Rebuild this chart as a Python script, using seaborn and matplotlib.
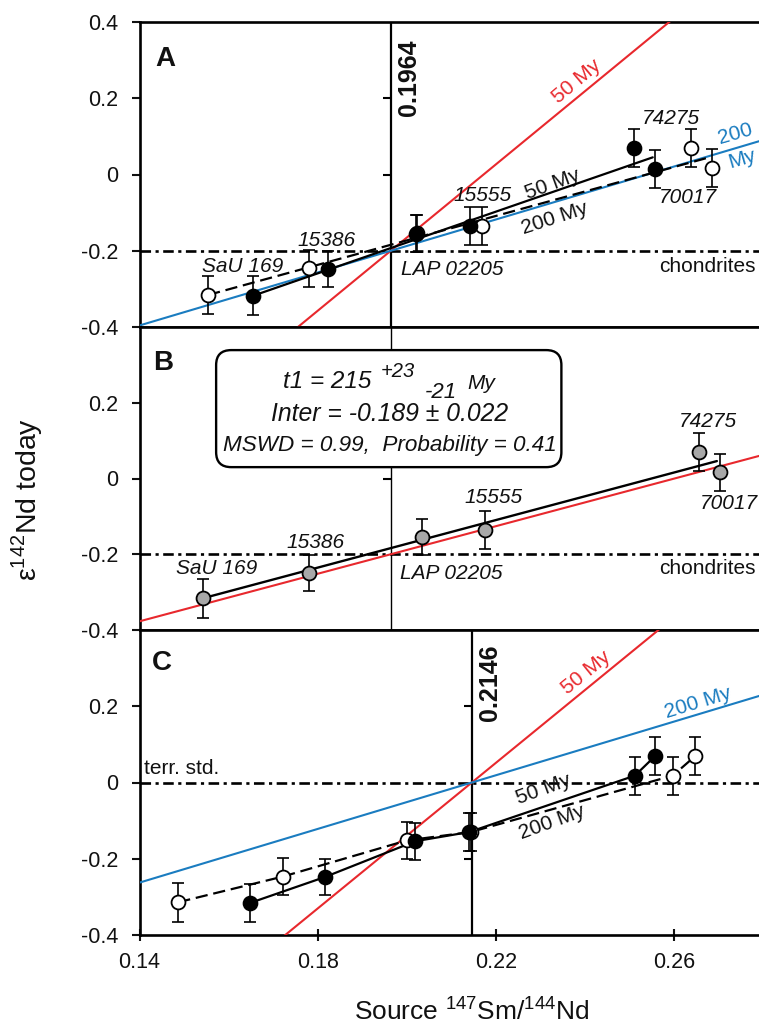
import numpy as np
import pandas as pd
import matplotlib
matplotlib.use("Agg")
import matplotlib.pyplot as plt
import matplotlib.markers as mmarkers
from matplotlib.patches import FancyBboxPatch
import seaborn as sns

# ---------------- data ----------------
samples = ["SaU 169", "15386", "LAP 02205", "15555", "74275", "70017"]
err = [0.051, 0.048, 0.048, 0.050, 0.050, 0.050]

# Panel A (filled = 50 My model, open = 200 My model)
a_fill_x = [0.1655, 0.1824, 0.2020, 0.2142, 0.2511, 0.2557]
a_fill_y = [-0.318, -0.248, -0.155, -0.135, 0.069, 0.014]
a_open_x = [0.1554, 0.1781, 0.2023, 0.2169, 0.2637, 0.2686]
a_open_y = [-0.316, -0.246, -0.154, -0.136, 0.069, 0.016]
a_pivot = (0.1964, -0.2)
a_slope_50 = 9.6
a_slope_200 = 3.475
a_fit50_x = [0.1655, 0.2552]
a_fit50_y = [-0.318, 0.045]
a_fit200_x = [0.1554, 0.2682]
a_fit200_y = [-0.316, 0.046]

# Panel B
b_x = [0.1543, 0.1780, 0.2033, 0.2175, 0.2655, 0.2704]
b_y = [-0.316, -0.249, -0.154, -0.135, 0.069, 0.016]
b_slope_model = 3.14
b_fit_x = [0.1543, 0.2696]
b_fit_y = [-0.316, 0.046]

# Panel C
c_fill_x = [0.1648, 0.1816, 0.2019, 0.2140, 0.2557, 0.2512]
c_fill_y = [-0.316, -0.248, -0.154, -0.130, 0.069, 0.018]
c_open_x = [0.1487, 0.1721, 0.2000, 0.2143, 0.2647, 0.2597]
c_open_y = [-0.314, -0.247, -0.152, -0.130, 0.069, 0.018]
c_pivot = (0.2146, 0.0)
c_slope_50 = 9.55
c_slope_200 = 3.52

ytick_a = [0.4, 0.2, 0, -0.2, -0.4]
ylab_a = ["0.4", "0.2", "0", "-0.2", "-0.4"]
ytick_bc = [0.2, 0, -0.2, -0.4]
ylab_bc = ["0.2", "0", "-0.2", "-0.4"]
xticks = [0.14, 0.18, 0.22, 0.26]
xlabs = ["0.14", "0.18", "0.22", "0.26"]

# ---------------- style ----------------
sns.set_theme(style="ticks")
plt.rcParams["font.family"] = ["Liberation Sans", "DejaVu Sans"]
plt.rcParams["axes.unicode_minus"] = False
plt.rcParams["mathtext.fontset"] = "custom"
plt.rcParams["mathtext.rm"] = "Liberation Sans"

RED = "#e8282d"
BLUE = "#1a7cc0"
GRAY = "#a8a8a8"
INK = "#111111"

W, H = 759, 1024
fig = plt.figure(figsize=(W / 100, H / 100), dpi=100)
left = 139.5 / W
width = (763.2 - 139.5) / W
tops = [22, 327, 630]
bots = [327, 630, 935]
axes = [fig.add_axes([left, 1 - b / H, width, (b - t) / H]) for t, b in zip(tops, bots)]

xlim = (0.14, 0.28)
xx = np.array(xlim)
DASHDOT = (0, (4, 1.7, 1.2, 1.7))
DASHED = (0, (5.5, 2.6))


def base(ax):
    ax.set_xlim(*xlim)
    ax.set_ylim(-0.4, 0.4)
    for s in ["left", "top", "bottom", "right"]:
        ax.spines[s].set_linewidth(1.9)
        ax.spines[s].set_color("black")
    ax.tick_params(axis="y", direction="out", length=6, width=1.5,
                   labelsize=15.5, pad=9, colors=INK)
    ax.set_xlabel("")
    ax.set_ylabel("")


def points(ax, x, y, face, z=5):
    ax.errorbar(x, y, yerr=err, fmt="none", ecolor="black", elinewidth=1.2,
                capsize=4.3, capthick=1.2, zorder=z)
    sns.scatterplot(x=x, y=y, ax=ax, s=100, color=face, edgecolor="black",
                    linewidth=1.3, zorder=z + 0.5, legend=False)


def vline_ticks(ax, xv, yv):
    ax.plot([xv] * len(yv), yv, ls="none", marker=mmarkers.TICKLEFT,
            ms=6, mew=1.5, color="black", zorder=2)


def model_line(ax, pivot, slope, color, z=3):
    yy = pivot[1] + slope * (xx - pivot[0])
    sns.lineplot(x=xx, y=yy, ax=ax, color=color, lw=1.5, zorder=z, legend=False)


lab = dict(fontsize=15, style="italic", ha="center", va="center", color=INK)
up = dict(fontsize=15, ha="center", va="center", rotation_mode="anchor")

# ---------------- panel A ----------------
ax = axes[0]
base(ax)
ax.axhline(-0.2, color="black", lw=1.9, ls=DASHDOT, zorder=1)
ax.axvline(a_pivot[0], color="black", lw=1.6, zorder=2)
vline_ticks(ax, a_pivot[0], [0.2, 0.0])
model_line(ax, a_pivot, a_slope_50, RED)
model_line(ax, a_pivot, a_slope_200, BLUE)
sns.lineplot(x=a_fit200_x, y=a_fit200_y, ax=ax, color="black", lw=1.6,
             linestyle=DASHED, zorder=4, legend=False)
sns.lineplot(x=a_fit50_x, y=a_fit50_y, ax=ax, color="black", lw=1.6, zorder=4, legend=False)
points(ax, a_open_x, a_open_y, "white")
points(ax, a_fill_x, a_fill_y, "black", z=6)
ax.set_yticks(ytick_a, ylab_a)
ax.set_xticks([])

ax.text(0.1631, -0.240, samples[0], **lab)
ax.text(0.1819, -0.172, samples[1], **lab)
ax.text(0.2102, -0.249, samples[2], **lab)
ax.text(0.2170, -0.054, samples[3], **lab)
ax.text(0.2593, 0.148, samples[4], **lab)
ax.text(0.2630, -0.060, samples[5], **lab)
ax.text(0.2784, -0.241, "chondrites", fontsize=15, ha="right", va="center", color=INK)
ax.text(0.2327, -0.025, "50 My", rotation=20, color=INK, **up)
ax.text(0.2333, -0.115, "200 My", rotation=18, color=INK, **up)
ax.text(0.2381, 0.244, "50 My", rotation=40, color=RED, **up)
ax.text(0.2738, 0.106, "200", rotation=16, color=BLUE, **up)
ax.text(0.2752, 0.041, "My", rotation=16, color=BLUE, **up)
ax.text(0.1458, 0.303, "A", fontsize=20, fontweight="bold", ha="center", va="center", color=INK)
ax.text(0.2004, 0.255, "0.1964", fontsize=18, fontweight="bold", rotation=90,
        ha="center", va="center", color=INK)

# ---------------- panel B ----------------
ax = axes[1]
base(ax)
ax.axhline(-0.2, color="black", lw=1.9, ls=DASHDOT, zorder=1)
ax.axvline(a_pivot[0], color="black", lw=1.0, zorder=2)
vline_ticks(ax, a_pivot[0], [0.2, 0.0])
model_line(ax, a_pivot, b_slope_model, RED)
sns.lineplot(x=b_fit_x, y=b_fit_y, ax=ax, color="black", lw=1.7, zorder=4, legend=False)
points(ax, b_x, b_y, GRAY)
ax.set_yticks(ytick_bc, ylab_bc)
ax.set_xticks([])

ax.text(0.1572, -0.237, samples[0], **lab)
ax.text(0.1796, -0.170, samples[1], **lab)
ax.text(0.2100, -0.251, samples[2], **lab)
ax.text(0.2195, -0.051, samples[3], **lab)
ax.text(0.2675, 0.151, samples[4], **lab)
ax.text(0.2723, -0.067, samples[5], **lab)
ax.text(0.2784, -0.237, "chondrites", fontsize=15, ha="right", va="center", color=INK)
ax.text(0.1452, 0.306, "B", fontsize=20, fontweight="bold", ha="center", va="center", color=INK)

rs = 0.0034
box = FancyBboxPatch((0.1572, 0.030), 0.2347 - 0.1572, 0.339 - 0.030,
                     boxstyle=f"round,pad=0,rounding_size={rs}",
                     mutation_aspect=11.6, fc="white", ec="black", lw=1.7, zorder=8)
ax.add_patch(box)
bt = dict(style="italic", color=INK, zorder=9, va="baseline")
ax.text(0.1722, 0.240, "t1 = 215", fontsize=17.5, ha="left", **bt)
ax.text(0.1942, 0.268, "+23", fontsize=14.5, ha="left", **bt)
ax.text(0.2040, 0.212, "-21", fontsize=16, ha="left", **bt)
ax.text(0.2135, 0.236, "My", fontsize=15, ha="left", **bt)
ax.text(0.1962, 0.152, "Inter = -0.189 ± 0.022", fontsize=17.8, ha="center", **bt)
ax.text(0.1962, 0.073, "MSWD = 0.99,  Probability = 0.41", fontsize=16.2, ha="center", **bt)

# ---------------- panel C ----------------
ax = axes[2]
base(ax)
ax.axhline(0.0, color="black", lw=1.9, ls=DASHDOT, zorder=1)
ax.axvline(c_pivot[0], color="black", lw=1.6, zorder=2)
vline_ticks(ax, c_pivot[0], [0.2, -0.2])
model_line(ax, c_pivot, c_slope_50, RED)
model_line(ax, c_pivot, c_slope_200, BLUE)
sns.lineplot(x=c_open_x, y=c_open_y, ax=ax, color="black", lw=1.6, sort=True,
             estimator=None, linestyle=DASHED, zorder=4, legend=False)
sns.lineplot(x=c_fill_x, y=c_fill_y, ax=ax, color="black", lw=1.6, sort=True,
             estimator=None, zorder=4, legend=False)
points(ax, c_open_x, c_open_y, "white")
points(ax, c_fill_x, c_fill_y, "black", z=6)
ax.set_yticks(ytick_bc, ylab_bc)
ax.set_xticks(xticks, xlabs)
ax.tick_params(axis="x", direction="inout", length=9, width=1.5, labelsize=15.5,
               pad=8, colors=INK)

ax.text(0.1410, 0.037, "terr. std.", fontsize=15, ha="left", va="center", color=INK)
ax.text(0.2402, 0.289, "50 My", rotation=39, color=RED, **up)
ax.text(0.2653, 0.210, "200 My", rotation=17, color=BLUE, **up)
ax.text(0.2307, -0.018, "50 My", rotation=20, color=INK, **up)
ax.text(0.2326, -0.104, "200 My", rotation=20, color=INK, **up)
ax.text(0.1450, 0.313, "C", fontsize=20, fontweight="bold", ha="center", va="center", color=INK)
ax.text(0.2187, 0.261, "0.2146", fontsize=18, fontweight="bold", rotation=90,
        ha="center", va="center", color=INK)

# ---------------- axis titles ----------------
fig.text(0.036, 0.512, r"$\mathrm{\varepsilon}^{142}$Nd today", rotation=90,
         fontsize=20.5, ha="center", va="center", color=INK)
fig.text(0.621, 0.004, r"Source $^{147}$Sm/$^{144}$Nd", fontsize=19,
         ha="center", va="baseline", color=INK)

fig.savefig("out.png", dpi=100)
